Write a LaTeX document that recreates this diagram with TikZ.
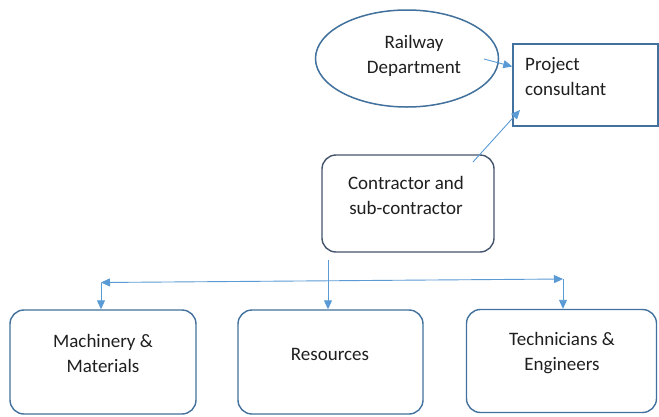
\documentclass[tikz,border=0pt]{standalone}
\usepackage{fontspec}
\setmainfont{Carlito}
\usetikzlibrary{shapes.geometric,arrows.meta}
\definecolor{boxline}{HTML}{41719C}
\definecolor{darkline}{HTML}{44546A}
\definecolor{arrowblue}{HTML}{5B9BD5}
\begin{document}
\begin{tikzpicture}[x=1pt,y=-1pt,
  every node/.style={font=\fontsize{19}{25}\selectfont, text=black!88},
  roundbox/.style={draw=boxline, line width=1.4pt, rounded corners=14pt, inner sep=0pt},
  label text/.style={align=center, inner sep=0pt},
  flow/.style={draw=arrowblue, line width=0.9pt, -{Triangle[length=9pt,width=8pt]}}]
\useasboundingbox (0,0) rectangle (659,416);
\fill[white] (0,0) rectangle (659,416);

% top row: railway department and consultant
\node[ellipse, draw=boxline, line width=1.5pt, minimum width=183pt, minimum height=97pt, inner sep=0pt]
  (rail) at (407,58.5) {};
\node[label text] (railtext) at (414,56) {Railway\\Department};
\node[draw=boxline, line width=1.5pt, minimum width=145pt, minimum height=82pt, inner sep=0pt]
  (consult) at (585.5,85) {};
\node[align=left, inner sep=0pt, anchor=north west] (consulttext) at (525,57) {Project\\consultant};

% contractor
\node[roundbox, draw=darkline, minimum width=172pt, minimum height=97pt] (contr) at (408,203.5) {};
\node[label text] (contrtext) at (406,195.5) {Contractor and\\sub-contractor};

% bottom row
\node[roundbox, minimum width=186pt, minimum height=104pt] (mach) at (103,362) {};
\node[label text] (machtext) at (103,353) {Machinery \&\\Materials};
\node[roundbox, minimum width=185pt, minimum height=104pt] (res) at (330.5,362) {};
\node[label text] (restext) at (330,354) {Resources};
\node[roundbox, minimum width=190pt, minimum height=103pt] (tech) at (561.5,361) {};
\node[label text] (techtext) at (562,353) {Technicians \&\\Engineers};

% connectors
\coordinate (railstart) at (484,59);
\coordinate (constart) at (473,162);
\coordinate (contip) at (520,110);
\coordinate (drop) at (328,260);
\coordinate (leftend) at (101,282.5);
\coordinate (rightend) at (563,279);

\draw[flow] (railstart) -- (consult.west |- 0,66.5);
\draw[flow] (constart) -- (contip);
\draw[flow] (drop) -- (drop |- res.north);
\draw[flow, {Triangle[length=9pt,width=8pt]}-{Triangle[length=9pt,width=8pt]}] (leftend) -- (rightend);
\draw[flow] (leftend) -- (leftend |- mach.north);
\draw[flow] (rightend) -- (rightend |- tech.north);
\end{tikzpicture}
\end{document}
